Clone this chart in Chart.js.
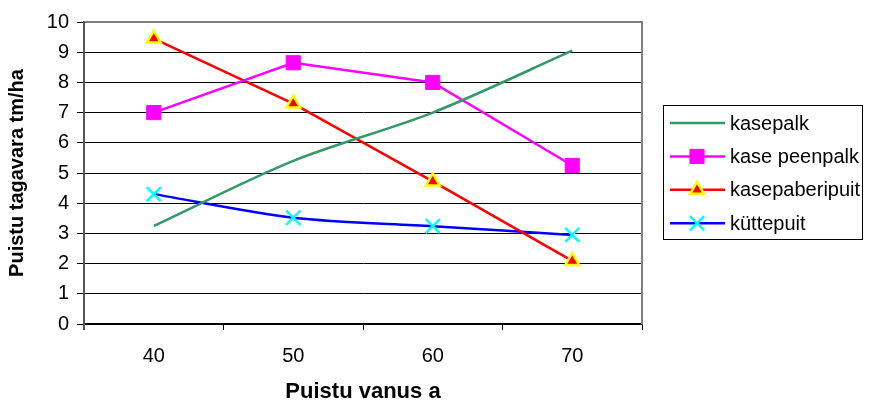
<!DOCTYPE html>
<html lang="et">
<head>
    <meta charset="UTF-8">
    <title>Puistu tagavara</title>
    <script src="https://cdn.jsdelivr.net/npm/chart.js@4/dist/chart.umd.min.js"></script>
    <style>
        body { margin: 0; background: #fff; }
        #wrap { width: 870px; height: 403px; }
    </style>
</head>
<body>
<div id="wrap"><canvas id="myChart" width="870" height="403"></canvas></div>
<script>
    // andmed
    const ages = ['40', '50', '60', '70'];
    const kasepalk = [3.25, 5.4, 7.0, 9.05];
    const kasePeenpalk = [7.0, 8.65, 8.0, 5.25];
    const kasepaberipuit = [9.45, 7.3, 4.72, 2.09];
    const kuttepuit = [4.3, 3.52, 3.24, 2.95];
    const yTicks = [0, 1, 2, 3, 4, 5, 6, 7, 8, 9, 10];

    const fontName = "'Liberation Sans', Arial, sans-serif";

    // hall raam ümber joonise ala
    const plotFrame = {
        id: 'plotFrame',
        beforeDatasetsDraw(chart) {
            const a = chart.chartArea;
            const ctx = chart.ctx;
            ctx.save();
            ctx.strokeStyle = '#808080';
            ctx.lineWidth = 2;
            ctx.beginPath();
            ctx.moveTo(a.left, a.top);
            ctx.lineTo(a.right, a.top);
            ctx.lineTo(a.right, a.bottom);
            ctx.stroke();
            // vasak telg ulatub veidi alla
            ctx.strokeStyle = '#555';
            ctx.beginPath();
            ctx.moveTo(a.left, a.top);
            ctx.lineTo(a.left, a.bottom + 6);
            ctx.stroke();
            ctx.restore();
        }
    };

    // legend kastis paremal
    const boxLegend = {
        id: 'boxLegend',
        afterDraw(chart) {
            const ctx = chart.ctx;
            const box = {x: 663, y: 105, w: 199, h: 134};
            ctx.save();
            ctx.strokeStyle = '#000';
            ctx.lineWidth = 1;
            ctx.strokeRect(box.x + 0.5, box.y + 0.5, box.w, box.h);
            chart.data.datasets.forEach((ds, i) => {
                const y = 123 + i * 33.4;
                ctx.strokeStyle = ds.borderColor;
                ctx.lineWidth = ds.borderWidth;
                ctx.beginPath();
                ctx.moveTo(670, y);
                ctx.lineTo(725, y);
                ctx.stroke();
                if (ds.pointRadius > 0) {
                    ctx.fillStyle = ds.pointBackgroundColor;
                    ctx.strokeStyle = ds.pointBorderColor;
                    ctx.lineWidth = ds.pointBorderWidth;
                    Chart.helpers.drawPoint(ctx, {
                        pointStyle: ds.pointStyle,
                        radius: ds.pointRadius,
                        borderWidth: ds.pointBorderWidth,
                        rotation: 0
                    }, 697, y);
                }
                ctx.fillStyle = '#000';
                ctx.font = '20px ' + fontName;
                ctx.textBaseline = 'middle';
                ctx.fillText(ds.label, 730, y + 1);
            });
            ctx.restore();
        }
    };

    const ctx = document.getElementById('myChart').getContext('2d');
    new Chart(ctx, {
        type: 'line',
        data: {
            labels: ages,
            datasets: [
                {
                    label: 'kasepalk',
                    data: kasepalk,
                    borderColor: '#339966',
                    borderWidth: 2.5,
                    pointRadius: 0,
                    tension: 0.3
                },
                {
                    label: 'kase peenpalk',
                    data: kasePeenpalk,
                    borderColor: '#ff00ff',
                    borderWidth: 2.5,
                    pointStyle: 'rect',
                    pointRadius: 10,
                    pointBackgroundColor: '#ff00ff',
                    pointBorderColor: '#ff00ff',
                    pointBorderWidth: 1
                },
                {
                    label: 'kasepaberipuit',
                    data: kasepaberipuit,
                    borderColor: '#ff0000',
                    borderWidth: 2.5,
                    pointStyle: 'triangle',
                    pointRadius: 8,
                    pointBackgroundColor: '#ff0000',
                    pointBorderColor: '#ffff00',
                    pointBorderWidth: 2.5
                },
                {
                    label: 'küttepuit',
                    data: kuttepuit,
                    borderColor: '#0000ff',
                    borderWidth: 2.5,
                    pointStyle: 'crossRot',
                    pointRadius: 10,
                    pointBackgroundColor: '#00ffff',
                    pointBorderColor: '#00ffff',
                    pointBorderWidth: 2.5,
                    tension: 0.3
                }
            ]
        },
        options: {
            responsive: false,
            animation: false,
            layout: {
                padding: {top: 22, right: 228, left: 0, bottom: 0}
            },
            plugins: {
                legend: {display: false},
                tooltip: {enabled: false}
            },
            scales: {
                x: {
                    offset: true,
                    afterFit: s => { s.height = 79; },
                    border: {display: true, color: '#000', width: 1.5},
                    grid: {
                        offset: true,
                        drawOnChartArea: false,
                        drawTicks: true,
                        tickLength: 6,
                        color: '#000'
                    },
                    ticks: {
                        color: '#000',
                        padding: 14,
                        font: {family: fontName, size: 20}
                    },
                    title: {
                        display: true,
                        text: 'Puistu vanus a',
                        color: '#000',
                        padding: 0,
                        font: {family: fontName, size: 22, weight: 'bold', lineHeight: 1}
                    }
                },
                y: {
                    min: 0,
                    max: 10,
                    afterFit: s => { s.width = 84; },
                    afterBuildTicks: s => { s.ticks = yTicks.map(v => ({value: v})); },
                    border: {display: true, color: '#555', width: 2},
                    grid: {
                        color: '#000',
                        lineWidth: 1,
                        tickLength: 7
                    },
                    ticks: {
                        color: '#000',
                        padding: 8,
                        font: {family: fontName, size: 20}
                    },
                    title: {
                        display: true,
                        text: 'Puistu tagavara tm/ha',
                        color: '#000',
                        padding: {top: 7},
                        font: {family: fontName, size: 20, weight: 'bold', lineHeight: 1}
                    }
                }
            }
        },
        plugins: [plotFrame, boxLegend]
    });
</script>
</body>
</html>
